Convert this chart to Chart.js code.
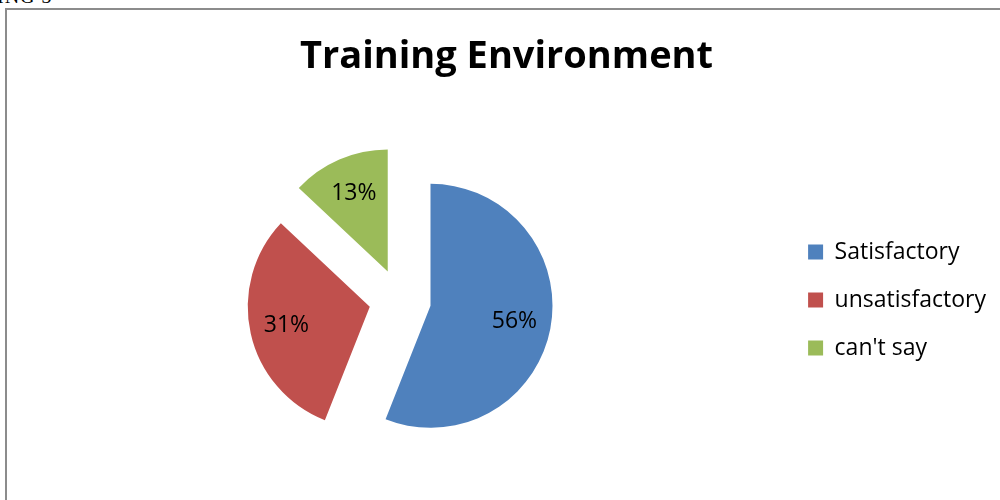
<!DOCTYPE html>
<html>
<head>
<meta charset="utf-8">
<script src="https://cdn.jsdelivr.net/npm/chart.js@4"></script>
<style>
  html, body { margin: 0; padding: 0; background: #fff; overflow: hidden; }
  #frame {
    position: absolute; left: 5px; top: 8px; width: 1100px; height: 600px;
    border-top: 2px solid #8c8c8c; border-left: 2px solid #8c8c8c;
  }
  #cut {
    position: absolute; left: -3px; top: -15px;
    font: 20px "Liberation Serif", serif; color: #000; letter-spacing: 1px;
  }
  #grafico { position: absolute; left: 0; top: 0; }
</style>
</head>
<body>
<div id="cut">ING 3</div>
<div id="frame"></div>
<canvas id="grafico" width="1000" height="500"></canvas>
<script>
const categorias = ["Satisfactory", "unsatisfactory", "can't say"];
const valores = [56, 31, 13];
const cores = ["#4F81BD", "#C0504D", "#9BBB59"];

const afastamento = 31; // quanto cada fatia sai do centro, em px
const total = valores.reduce((a, b) => a + b, 0);

const direcao = (arc) => {
    const meio = (arc.startAngle + arc.endAngle) / 2;
    return { dx: Math.cos(meio), dy: Math.sin(meio) };
};

// desenha cada fatia deslocada para fora (pizza "explodida")
const explodirPlugin = {
    id: "explodir",
    beforeDatasetDraw(chart, args) {
        const ctx = chart.ctx;
        args.meta.data.forEach((arc) => {
            const { dx, dy } = direcao(arc);
            ctx.save();
            ctx.translate(dx * afastamento, dy * afastamento);
            arc.draw(ctx, chart.chartArea);
            ctx.restore();
        });
        return false;
    }
};

// escreve o percentual dentro de cada fatia
const rotulosPlugin = {
    id: "rotulos",
    afterDatasetsDraw(chart) {
        const ctx = chart.ctx;
        const meta = chart.getDatasetMeta(0);
        ctx.save();
        ctx.font = "23px 'Open Sans'";
        ctx.fillStyle = "#000";
        ctx.textAlign = "center";
        ctx.textBaseline = "middle";
        meta.data.forEach((arc, i) => {
            const { dx, dy } = direcao(arc);
            const dist = afastamento + arc.outerRadius * 0.7;
            ctx.fillText(Math.round(valores[i] / total * 100) + "%", arc.x + dx * dist, arc.y + dy * dist);
        });
        ctx.restore();
    }
};

const ctx = document.getElementById("grafico").getContext("2d");

new Chart(ctx, {
    type: "pie",
    data: {
        labels: categorias,
        datasets: [{
            data: valores,
            backgroundColor: cores,
            borderWidth: 0,
            radius: 122
        }]
    },
    options: {
        responsive: false,
        animation: false,
        layout: { padding: { left: 17, right: 4, top: 0, bottom: 0 } },
        plugins: {
            title: {
                display: true,
                text: "Training Environment",
                color: "#000",
                font: { family: "Open Sans", size: 38, weight: "bold", lineHeight: 1.2 },
                padding: { top: 34, bottom: 20.4 }
            },
            legend: {
                position: "right",
                fullSize: false,
                labels: {
                    color: "#000",
                    font: { family: "Open Sans", size: 23 },
                    boxWidth: 15,
                    boxHeight: 15,
                    padding: 25
                }
            },
            tooltip: { enabled: false }
        }
    },
    plugins: [explodirPlugin, rotulosPlugin]
});
</script>
</body>
</html>
